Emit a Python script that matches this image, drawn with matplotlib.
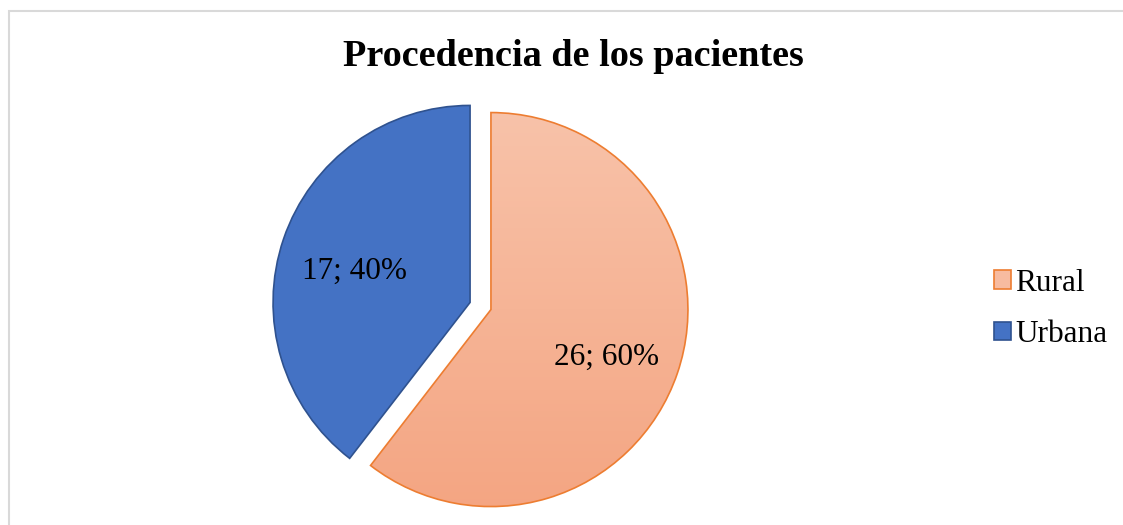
import matplotlib.pyplot as plt
import numpy as np
from matplotlib.colors import LinearSegmentedColormap
from matplotlib.patches import Rectangle
import matplotlib.transforms as mtransforms

categories = ['Rural', 'Urbana']
values = [26, 17]
face_colors = ['#F6B396', '#4472C4']
edge_colors = ['#ED7D31', '#2F528F']
TITLE = 'Procedencia de los pacientes'

plt.rcParams['font.family'] = ['Liberation Serif', 'DejaVu Serif']

W, H = 1123, 525
fig = plt.figure(figsize=(W / 100, H / 100), dpi=100)

# chart border (off the right and bottom edges, as in the source)
fig.patches.append(Rectangle((8.5 / W, -0.1), 1.2, 1 - 11.5 / H + 0.1,
                             transform=fig.transFigure, fill=False,
                             edgecolor='#D9D9D9', linewidth=1.5))

# pie center (480.5, 306) px, radius 197 px
R = 197
cx, cy = 480.5, H - 306
half = 1.25 * R
ax = fig.add_axes([(cx - half) / W, (cy - half) / H, 2 * half / W, 2 * half / H])

total = sum(values)


def label(pct):
    v = int(round(pct * total / 100))
    return '%d; %d%%' % (v, round(pct))


wedges, texts, autotexts = ax.pie(
    values, colors=face_colors, startangle=90, counterclock=False,
    explode=[0.056, 0.056], autopct=label, pctdistance=0.62,
    wedgeprops=dict(linewidth=1.2),
    textprops=dict(fontsize=22.5, color='black'))
for w, ec in zip(wedges, edge_colors):
    w.set_edgecolor(ec)

# vertical gradient on the Rural slice
cmap = LinearSegmentedColormap.from_list('peach', ['#F4A582', '#F8C3AA'])
grad = np.linspace(0, 1, 256).reshape(-1, 1)
img = ax.imshow(grad, cmap=cmap, origin='lower', aspect='auto',
                extent=(-1.1, 1.2, -1.05, 1.02), zorder=wedges[0].get_zorder())
img.set_clip_path(wedges[0])
wedges[0].set_facecolor('none')
wedges[0].set_zorder(img.get_zorder() + 0.1)
shift = mtransforms.ScaledTranslation(0, -8 / 100, fig.dpi_scale_trans)
for t in autotexts:
    t.set_zorder(5)
    t.set_transform(t.get_transform() + shift)
ax.set_xlim(-1.25, 1.25)
ax.set_ylim(-1.25, 1.25)
ax.set_aspect('equal')

fig.text(573 / W, 1 - 56 / H, TITLE, ha='center', va='center',
         fontsize=27.5, fontweight='bold')

handles = [Rectangle((0, 0), 1, 1, facecolor=face_colors[i],
                     edgecolor=edge_colors[i], linewidth=1.2)
           for i in range(len(categories))]
handles[0].set_facecolor('#F7BBA0')
fig.legend(handles, categories, loc='center left',
           bbox_to_anchor=(978 / W, 1 - 309 / H), frameon=False,
           fontsize=22.5, handlelength=0.55, handleheight=0.55,
           handletextpad=0.15, labelspacing=0.71, borderpad=0)

fig.savefig('out.png', dpi=100)
